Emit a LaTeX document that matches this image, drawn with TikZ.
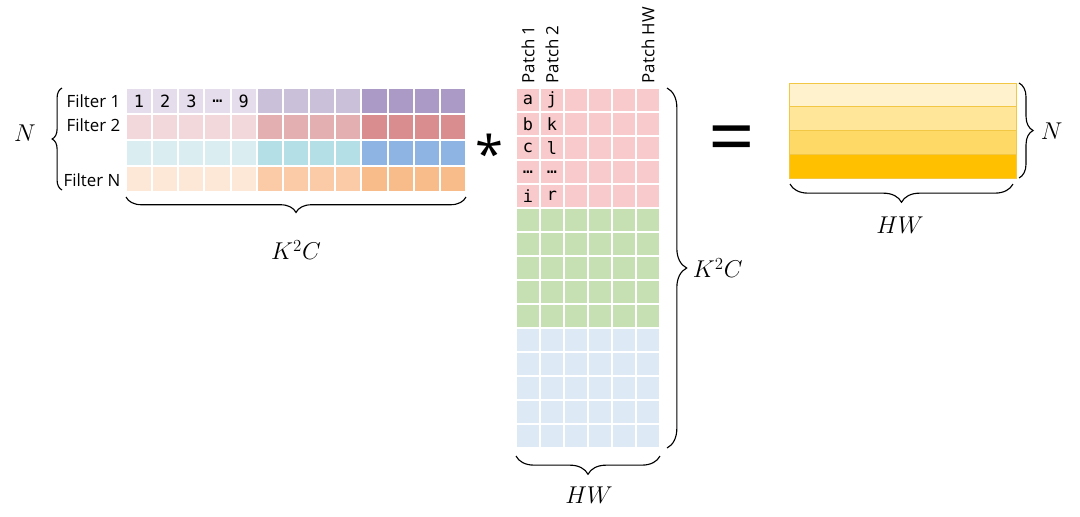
\documentclass[tikz,border=0pt]{standalone}
\usepackage{fontspec}
\setmainfont{Open Sans}
\setmonofont{DejaVu Sans Mono}
\usetikzlibrary{decorations.pathreplacing}
\definecolor{purpleA}{HTML}{E5DDEC}
\definecolor{purpleB}{HTML}{CBC0DA}
\definecolor{purpleC}{HTML}{AC9AC6}
\definecolor{pinkA}{HTML}{F2D8DA}
\definecolor{pinkB}{HTML}{E4AFB1}
\definecolor{pinkC}{HTML}{D98D8E}
\definecolor{cyanA}{HTML}{DAEEF2}
\definecolor{cyanB}{HTML}{B5DFE6}
\definecolor{cyanC}{HTML}{8EB4E3}
\definecolor{peachA}{HTML}{FDE8D7}
\definecolor{peachB}{HTML}{FBCBA7}
\definecolor{peachC}{HTML}{F8BC8A}
\definecolor{patchpink}{HTML}{F9CACC}
\definecolor{patchgreen}{HTML}{C6E0B4}
\definecolor{patchblue}{HTML}{DEE9F6}
\definecolor{outA}{HTML}{FFF2CC}
\definecolor{outB}{HTML}{FFE699}
\definecolor{outC}{HTML}{FFD966}
\definecolor{outD}{HTML}{FFC000}
\definecolor{outline}{HTML}{F2C744}

\tikzset{
  curly/.style={decorate, decoration={brace, amplitude=#1}, line width=0.8pt},
  rowlabel/.style={anchor=east, font=\fontsize{12}{14}\selectfont, inner sep=1pt},
  celltext/.style={font=\ttfamily\fontsize{12}{14}\selectfont, inner sep=0pt},
  dimlabel/.style={font=\fontsize{18}{21}\selectfont},
}

\begin{document}
\begin{tikzpicture}[x=0.025cm, y=-0.025cm]
  \useasboundingbox (0,0) rectangle (1080,516);

  \def\fw{26.15}
  \def\fh{26}
  \def\pc{24}

  % filters (N x K^2C)
  \foreach \row/\hue in {0/purple, 1/pink, 2/cyan, 3/peach}{
    \foreach \cols/\tone in {{0,1,2,3,4}/A, {5,6,7,8}/B, {9,10,11,12}/C}{
      \foreach \col in \cols{
        \fill[\hue\tone] ({126+\col*\fw+1}, {88+\row*\fh+1})
          rectangle ({126+(\col+1)*\fw-1}, {88+(\row+1)*\fh-1});
      }
    }
  }
  \foreach \val [count=\i from 0] in {1,2,3,\dots,9}
    \node[celltext] (num\i) at ({126+(\i+0.5)*\fw}, 101) {\val};

  \node[rowlabel] (filter1) at (122,101) {Filter 1};
  \node[rowlabel] (filter2) at (122,125) {Filter 2};
  \node[rowlabel] (filterN) at (122,180) {Filter N};

  \coordinate (fTop) at (62,88);
  \coordinate (fBot) at (62,190);
  \draw[curly=7pt] (fBot) -- (fTop);
  \node[dimlabel] (nLeft) at (25,133) {$N$};

  \coordinate (fL) at (126,197);
  \coordinate (fR) at (466,197);
  \draw[curly=11pt] (fR) -- (fL);
  \node[dimlabel] (kLeft) at (296,250) {$K^2C$};

  % times
  \node[font=\fontsize{36}{36}\selectfont, inner sep=0pt] (times) at (489,153) {*};

  % patches (K^2C x HW)
  \foreach \grp/\hue in {0/patchpink, 1/patchgreen, 2/patchblue}{
    \foreach \r in {0,...,4}{
      \foreach \col in {0,...,5}{
        \fill[\hue] ({516+\col*\pc+1}, {88+(\grp*5+\r)*\pc+1})
          rectangle ({516+(\col+1)*\pc-1}, {88+(\grp*5+\r+1)*\pc-1});
      }
    }
  }
  \foreach \ltr/\rtr [count=\i from 0] in {a/j, b/k, c/l, \dots/\dots, i/r}{
    \node[celltext] (p1r\i) at (528, {100+\i*\pc}) {\ltr};
    \node[celltext] (p2r\i) at (552, {100+\i*\pc}) {\rtr};
  }
  \node[rotate=90, rowlabel, anchor=west] (patch1) at (528,85) {Patch 1};
  \node[rotate=90, rowlabel, anchor=west] (patch2) at (552,85) {Patch 2};
  \node[rotate=90, rowlabel, anchor=west] (patchHW) at (648,85) {Patch HW};

  \coordinate (pTop) at (667,88);
  \coordinate (pBot) at (667,448);
  \draw[curly=14pt] (pTop) -- (pBot);
  \node[dimlabel, anchor=west] (kMid) at (688,268) {$K^2C$};

  \coordinate (pL) at (516,456);
  \coordinate (pR) at (660,456);
  \draw[curly=13pt] (pR) -- (pL);
  \node[dimlabel] (hwMid) at (589,495) {$HW$};

  % equals
  \node[font=\fontsize{58}{58}\selectfont, inner sep=0pt] (equals) at (732,146) {=};

  % output (N x HW)
  \foreach \r/\tone in {0/outA, 1/outB, 2/outC, 3/outD}{
    \fill[\tone] (789, {83+\r*23.75}) rectangle (1016, {83+(\r+1)*23.75});
    \draw[outline, line width=0.4pt] (789, {83+\r*23.75}) rectangle (1016, {83+(\r+1)*23.75});
  }

  \coordinate (oTop) at (1019,83);
  \coordinate (oBot) at (1019,178);
  \draw[curly=10pt] (oTop) -- (oBot);
  \node[dimlabel, anchor=west] (nRight) at (1036,131) {$N$};

  \coordinate (oL) at (790,184);
  \coordinate (oR) at (1013,184);
  \draw[curly=13pt] (oR) -- (oL);
  \node[dimlabel] (hwRight) at (900,225) {$HW$};
\end{tikzpicture}
\end{document}
